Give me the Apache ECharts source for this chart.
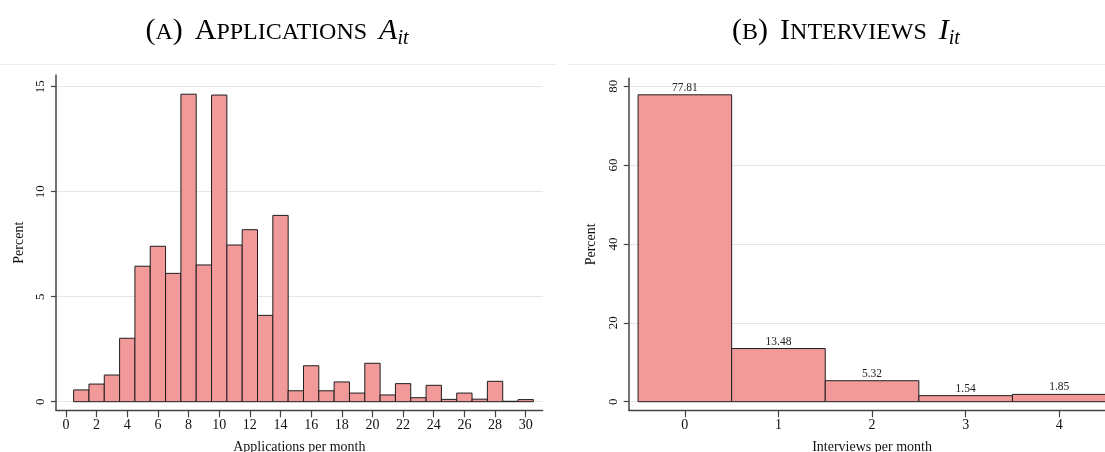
<!DOCTYPE html>
<html>
<head>
<meta charset="utf-8">
<script src="https://cdn.jsdelivr.net/npm/echarts@6/dist/echarts.min.js"></script>
<style>
html,body{margin:0;padding:0;background:#fff;}
#chart{width:1105px;height:452px;}
</style>
</head>
<body>
<div id="chart"></div>
<script>
// ---- Data ----
// Panel A: applications per month (bins centered on integers)
const appCategories = [1,2,3,4,5,6,7,8,9,10,11,12,13,14,15,16,17,18,19,20,21,22,23,24,25,26,27,28,29,30];
const appPercent = [0.56,0.84,1.27,3.02,6.45,7.40,6.11,14.64,6.51,14.60,7.46,8.19,4.11,8.87,0.52,1.71,0.52,0.94,0.41,1.83,0.32,0.86,0.19,0.78,0.11,0.41,0.12,0.97,0.02,0.10];
const appXTicks = [0,2,4,6,8,10,12,14,16,18,20,22,24,26,28,30];
const appYTicks = [0,5,10,15];

// Panel B: interviews per month
const intCategories = [0,1,2,3,4];
const intPercent = [77.81,13.48,5.32,1.54,1.85];
const intXTicks = [0,1,2,3,4];
const intYTicks = [0,20,40,60,80];

const binWidth = 1;

const SERIF = '"Liberation Serif","Times New Roman",serif';
const FILL = '#F29A9A';
const EDGE = '#1e1e1e';
const AXIS = '#444';
const GRIDC = '#e6e6e6';

function barRenderer(withLabel){
  return function(params, api){
    const x = api.value(0), y = api.value(1);
    const p0 = api.coord([x - binWidth/2, y]);
    const p1 = api.coord([x + binWidth/2, 0]);
    const children = [{
      type:'rect',
      shape:{x:p0[0], y:p0[1], width:p1[0]-p0[0], height:p1[1]-p0[1]},
      style:{fill:FILL, stroke:EDGE, lineWidth:1}
    }];
    if (withLabel){
      children.push({
        type:'text',
        x:(p0[0]+p1[0])/2, y:p0[1]-1,
        style:{text:y.toFixed(2), align:'center', verticalAlign:'bottom',
               font:'11.5px ' + SERIF, fill:'#222'}
      });
    }
    return {type:'group', children:children};
  };
}

function xAxisCfg(gridIndex, min, max, ticks, name){
  return {
    type:'value', gridIndex:gridIndex, min:min, max:max,
    name:name, nameLocation:'middle', nameGap:30,
    nameTextStyle:{fontFamily:SERIF, fontSize:14, color:'#111'},
    axisLine:{show:true, onZero:false, lineStyle:{color:AXIS, width:1.3}},
    axisTick:{show:true, length:7, customValues:ticks, lineStyle:{color:AXIS, width:1.2}},
    axisLabel:{customValues:ticks, fontFamily:SERIF, fontSize:14, color:'#111', margin:8},
    splitLine:{show:false}
  };
}
function yAxisCfg(gridIndex, min, max, ticks){
  return {
    type:'value', gridIndex:gridIndex, min:min, max:max,
    name:'Percent', nameLocation:'middle', nameGap:30,
    nameTextStyle:{fontFamily:SERIF, fontSize:14, color:'#111'},
    axisLine:{show:true, onZero:false, lineStyle:{color:AXIS, width:1.5}},
    axisTick:{show:true, length:5, customValues:ticks, lineStyle:{color:AXIS, width:1.2}},
    axisLabel:{customValues:ticks, rotate:90, fontFamily:SERIF, fontSize:13, color:'#111', margin:9},
    splitLine:{show:true, lineStyle:{color:GRIDC, width:1}}
  };
}

const titleRich = {
  p:{fontFamily:SERIF, fontSize:30, color:'#111', lineHeight:36, verticalAlign:'middle'},
  big:{fontFamily:SERIF, fontSize:30, color:'#111', lineHeight:36, verticalAlign:'middle'},
  sc:{fontFamily:SERIF, fontSize:24, color:'#111', lineHeight:36, verticalAlign:'middle', padding:[4,0,0,0]},
  sp:{fontFamily:SERIF, fontSize:30, lineHeight:36, width:12},
  it:{fontFamily:SERIF, fontSize:30, fontStyle:'italic', color:'#111', lineHeight:36, verticalAlign:'middle'},
  sub:{fontFamily:SERIF, fontSize:20, fontStyle:'italic', color:'#111', lineHeight:20, verticalAlign:'bottom'}
};

const chart = echarts.init(document.getElementById('chart'), null, {renderer:'canvas'});
chart.setOption({
  animation:false,
  backgroundColor:'#fff',
  grid:[
    {left:56, top:75.1, width:486.7, height:335.2, containLabel:false, outerBoundsMode:'none'},
    {left:628.7, top:78.3, width:486.7, height:332, containLabel:false, outerBoundsMode:'none'}
  ],
  xAxis:[
    xAxisCfg(0, -0.65, 31.11, appXTicks, 'Applications per month'),
    xAxisCfg(1, -0.6, 4.6, intXTicks, 'Interviews per month')
  ],
  yAxis:[
    yAxisCfg(0, -0.41, 15.55, appYTicks),
    yAxisCfg(1, -2.18, 82, intYTicks)
  ],
  graphic:[
    {type:'line', shape:{x1:0, y1:64.5, x2:556, y2:64.5}, style:{stroke:'#eeeeee', lineWidth:1}, silent:true},
    {type:'line', shape:{x1:568, y1:64.5, x2:1105, y2:64.5}, style:{stroke:'#eeeeee', lineWidth:1}, silent:true},
    {type:'text', x:277, y:31, style:{text:'{p|(}{sc|A}{p|)}{sp| }{big|A}{sc|PPLICATIONS}{sp| }{it|A}{sub|it}', rich:titleRich, align:'center', verticalAlign:'middle'}},
    {type:'text', x:846, y:31, style:{text:'{p|(}{sc|B}{p|)}{sp| }{big|I}{sc|NTERVIEWS}{sp| }{it|I}{sub|it}', rich:titleRich, align:'center', verticalAlign:'middle'}}
  ],
  series:[
    {type:'custom', xAxisIndex:0, yAxisIndex:0, renderItem:barRenderer(false),
     data:appCategories.map((c,i)=>[c, appPercent[i]]), clip:false},
    {type:'custom', xAxisIndex:1, yAxisIndex:1, renderItem:barRenderer(true),
     data:intCategories.map((c,i)=>[c, intPercent[i]]), clip:false}
  ]
});
</script>
</body>
</html>
